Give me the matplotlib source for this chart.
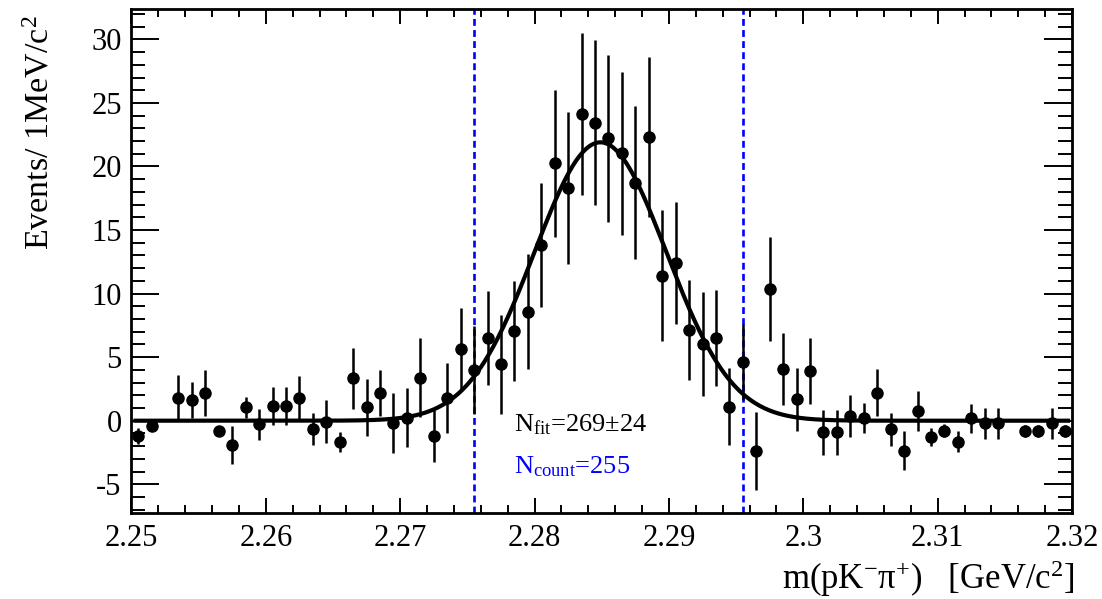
import numpy as np
import matplotlib.pyplot as plt
from matplotlib.ticker import MultipleLocator, FixedLocator, FuncFormatter

plt.rcParams['font.family'] = ['Liberation Serif', 'DejaVu Serif']
plt.rcParams['mathtext.fontset'] = 'custom'
plt.rcParams['mathtext.rm'] = 'Liberation Serif'
plt.rcParams['mathtext.it'] = 'Liberation Serif:italic'
plt.rcParams['axes.unicode_minus'] = False

# 1 MeV bins from 2.25 to 2.32 GeV (empty bins are nan)
edges = np.linspace(2.25, 2.32, 71)
centers = 0.5 * (edges[:-1] + edges[1:])

counts = [
    -1.20, -0.39, np.nan, 1.76, 1.63, 2.20, -0.81, -1.91, 1.05, -0.29,
    1.18, 1.18, 1.76, -0.68, -0.08, -1.65, 3.33, 1.05, 2.20, -0.21,
    0.25, 3.38, -1.20, 1.81, 5.64, 3.99, 6.53, 4.43, 7.08, 8.58,
    13.82, 20.25, 18.28, 24.13, 23.45, 22.22, 21.04, 18.73, 22.30, 11.41,
    12.38, 7.14, 6.01, 6.53, 1.10, 4.64, -2.38, 10.36, 4.07, 1.68,
    3.94, -0.92, -0.92, 0.37, 0.19, 2.20, -0.68, -2.36, 0.76, -1.26,
    -0.79, -1.65, 0.19, -0.21, -0.21, np.nan, -0.81, -0.81, -0.21, -0.81,
]
errors = [
    0.65, 0.30, np.nan, 1.80, 1.45, 1.80, 0.35, 1.47, 0.80, 1.20,
    1.50, 1.50, 1.77, 1.25, 1.68, 0.80, 2.37, 2.26, 1.80, 2.36,
    2.34, 3.10, 2.03, 2.75, 3.20, 3.50, 3.70, 3.90, 3.95, 4.50,
    4.85, 5.80, 5.97, 6.40, 6.50, 6.55, 6.40, 6.00, 6.30, 5.15,
    4.80, 3.90, 4.10, 3.77, 3.05, 3.00, 3.07, 4.08, 2.82, 2.50,
    2.60, 1.77, 1.77, 1.63, 1.18, 1.84, 1.30, 1.53, 1.57, 0.72,
    0.50, 0.84, 1.13, 1.22, 1.22, np.nan, 0.45, 0.45, 1.22, 0.50,
]

# fit result: gaussian signal on a flat (zero) background
n_fit = 269
n_fit_err = 24
mean = 2.2849
sigma = 0.0049
bin_width = 0.001
n_count = 255
window = (2.2755, 2.2955)

xf = np.linspace(2.2503, 2.3197, 600)
yf = n_fit * bin_width / (sigma * np.sqrt(2 * np.pi)) * np.exp(-0.5 * ((xf - mean) / sigma) ** 2)

fig = plt.figure(figsize=(11.02, 5.99), dpi=100)
ax = fig.add_axes([0.1193, 0.1436, 0.8535, 0.8422])

ax.plot(xf, yf, color='black', lw=3.0, zorder=2)
ax.errorbar(centers, counts, yerr=errors, fmt='o', color='black', ms=8,
            elinewidth=1.8, capsize=0, zorder=3)
for xv in window:
    ax.axvline(xv, color='blue', lw=1.9, ls=(0, (2.6, 1.6)), zorder=1)

ax.text(2.27846, -0.81, r'N$_{\mathrm{fit}}$=%d±%d' % (n_fit, n_fit_err),
        fontsize=19, va='baseline', ha='left', color='black')
ax.text(2.27846, -4.11, r'N$_{\mathrm{count}}$=%d' % n_count,
        fontsize=19, va='baseline', ha='left', color='blue')

ax.set_xlim(2.25, 2.32)
ax.set_ylim(-7.26, 32.43)

ax.xaxis.set_major_locator(FixedLocator(np.round(np.arange(2.25, 2.3201, 0.01), 3)))
ax.xaxis.set_major_formatter(FuncFormatter(lambda v, p: '%g' % round(v, 3)))
ax.xaxis.set_minor_locator(MultipleLocator(0.002))
ax.yaxis.set_major_locator(MultipleLocator(5))
ax.yaxis.set_minor_locator(MultipleLocator(1))

ax.tick_params(axis='both', which='both', direction='in', top=True, right=True,
               labelsize=22, width=1.4)
ax.tick_params(axis='x', which='major', length=11, pad=8)
ax.tick_params(axis='x', which='minor', length=5.5)
ax.tick_params(axis='y', which='major', length=20, pad=7)
ax.tick_params(axis='y', which='minor', length=10)
for s in ax.spines.values():
    s.set_linewidth(2)

ax.set_ylabel(r'Events/ 1MeV/c$^{2}$', fontsize=24.5, ha='right', va='center')
ax.yaxis.set_label_coords(-0.097, 0.987)
ax.set_xlabel(r'm(pK$^{-}$π$^{+}$)   [GeV/c$^{2}$]', fontsize=25, ha='right')
ax.xaxis.set_label_coords(1.003, -0.089)

fig.savefig('out.png', dpi=100)
